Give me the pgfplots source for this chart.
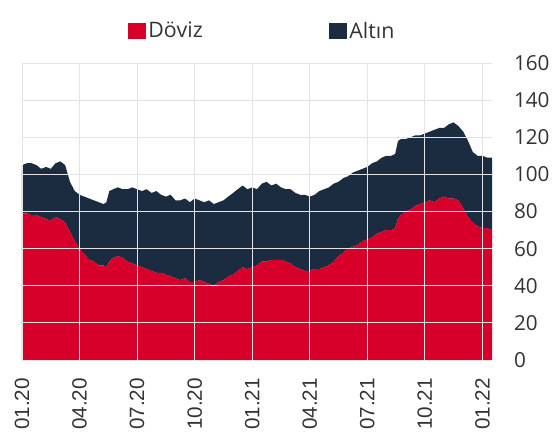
\documentclass[border=0pt]{standalone}
\usepackage{fontspec}
\setmainfont{Open Sans}
\newfontfamily\arial{Liberation Sans}
\usepackage{pgfplots}
\pgfplotsset{compat=1.18}
\usepackage{pgfplotstable}

\definecolor{doviz}{RGB}{214,0,42}
\definecolor{altin}{RGB}{28,44,64}
\definecolor{txt}{RGB}{51,51,51}

% x: months since 01.2020, D: Doviz, A: Altin (stacked)
\pgfplotstableread{
x     D   A
0.00  79  26
0.25  79  27
0.50  78  28
0.75  78  27
1.00  77  26
1.25  76  28
1.50  75  28
1.75  77  29
2.00  76  31
2.25  74  31
2.50  69  27
2.75  64  27
3.00  60  29
3.25  57  31
3.50  54  33
3.75  53  33
4.00  51  34
4.25  51  33
4.40  50  35
4.55  53  38
4.75  55  37
5.00  56  37
5.25  55  37
5.50  53  39
5.75  52  41
6.00  51  41
6.25  50  41
6.50  49  43
6.75  48  42
7.00  47  44
7.25  47  42
7.50  46  42
7.75  45  44
8.00  44  42
8.25  43  43
8.50  44  43
8.75  42  43
9.00  42  45
9.25  43  43
9.50  42  43
9.75  41  45
10.00 40  44
10.25 42  43
10.50 43  43
10.75 45  43
11.00 46  44
11.25 48  44
11.50 50  44
11.75 49  43
12.00 50  43
12.25 51  41
12.50 53  42
12.75 53  43
13.00 54  40
13.25 54  41
13.50 54  39
13.75 53  39
14.00 52  40
14.25 50  40
14.50 49  40
14.75 48  41
15.00 48  40
15.25 49  40
15.50 49  42
15.75 50  42
16.00 51  42
16.25 53  42
16.50 56  40
16.75 58  40
17.00 60  39
17.25 61  40
17.50 62  40
17.75 64  39
18.00 65  39
18.25 66  40
18.50 68  39
18.75 69  40
19.00 70  40
19.25 70  40
19.45 71  40
19.60 76  42
19.75 78  41
20.00 80  39
20.25 81  39
20.50 83  38
20.75 84  37
21.00 85  37
21.25 86  37
21.50 85  39
21.75 87  38
22.00 88  37
22.25 87  40
22.50 87  41
22.75 86  40
23.00 82  41
23.25 77  41
23.50 74  38
23.75 72  38
24.00 71  39
24.25 71  38
24.50 70  39
}\datatable

\begin{document}
\begin{tikzpicture}
\useasboundingbox (-16.5pt,-56.25pt) rectangle (402.75pt,270pt);
\begin{axis}[
    scale only axis,
    width=352.5pt, height=222.75pt,
    xmin=0, xmax=24.5,
    ymin=0, ymax=160,
    stack plots=y,
    area style,
    axis line style={draw=none},
    major tick length=0pt,
    grid=major,
    major grid style={gray!22, line width=0.7pt},
    xtick={0,3,...,24},
    xticklabels={01.20,04.20,07.20,10.20,01.21,04.21,07.21,10.21,01.22},
    xticklabel style={font=\arial\fontsize{15.5}{15.5}\selectfont, color=txt,
        rotate=90, anchor=east, xshift=-10pt},
    ytick={0,20,...,160},
    yticklabel pos=right,
    yticklabel style={font=\fontsize{15.5}{15.5}\selectfont, color=txt, xshift=13pt},
    /pgf/number format/assume math mode=true,
    legend columns=2,
    legend style={at={(axis description cs:0.512,1.108)}, anchor=center,
        draw=none, fill=none, font=\fontsize{16}{16}\selectfont, text=txt,
        /tikz/every even column/.append style={column sep=93pt}},
    legend image code/.code={\fill[#1,draw=none] (0pt,-6pt) rectangle (13pt,6pt);},
]
\addplot[fill=doviz, draw=none] table[x=x, y=D] {\datatable} \closedcycle;
\addlegendentry{Döviz}
\addplot[fill=altin, draw=none] table[x=x, y=A] {\datatable} \closedcycle;
\addlegendentry{Altın}
\end{axis}
\end{tikzpicture}
\end{document}
